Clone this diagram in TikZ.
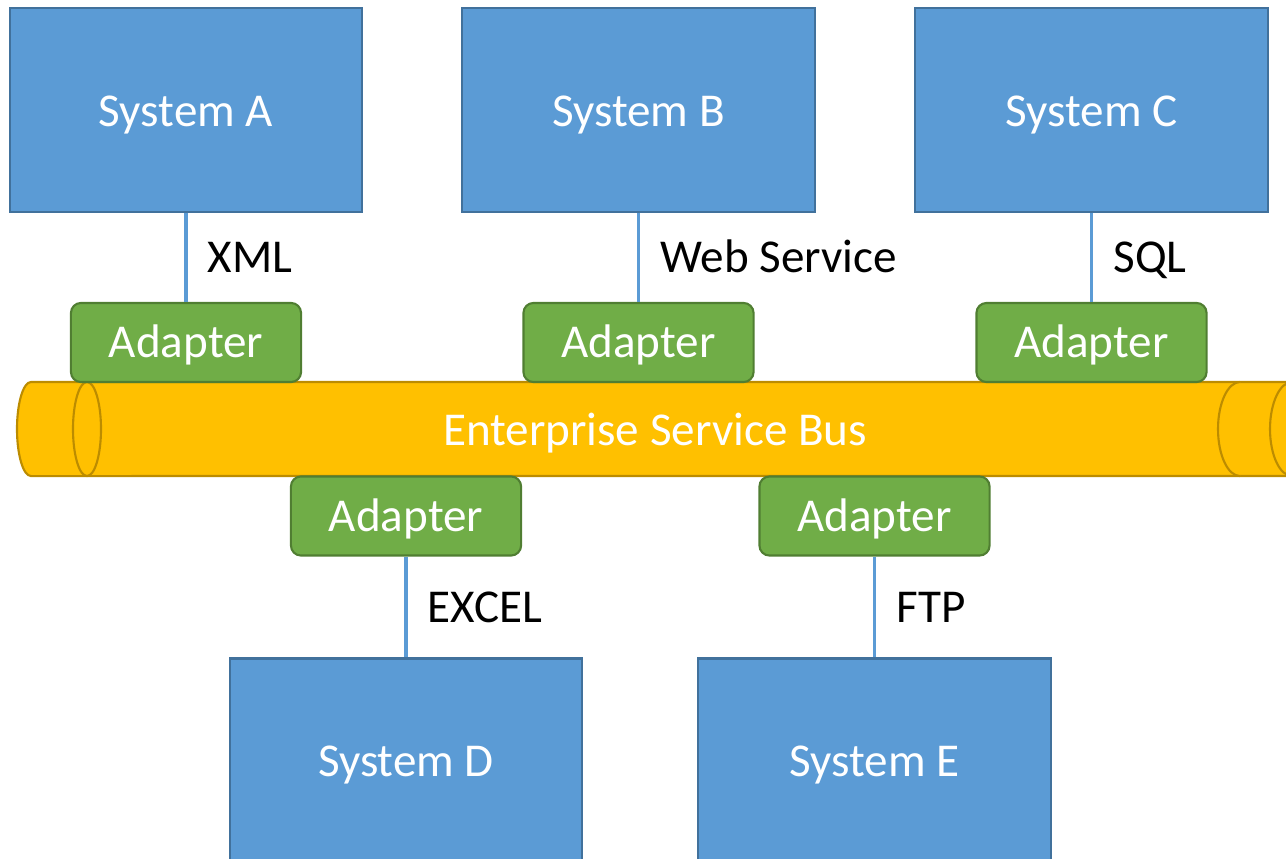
\documentclass[tikz,border=0pt]{standalone}
\usepackage{fontspec}
\setmainfont{Carlito}
\definecolor{sysblue}{HTML}{5B9BD5}
\definecolor{sysedge}{HTML}{41719C}
\definecolor{adgreen}{HTML}{70AD47}
\definecolor{adedge}{HTML}{507E32}
\definecolor{busgold}{HTML}{FFC000}
\definecolor{busedge}{HTML}{BC8C00}
\begin{document}
\begin{tikzpicture}[x=0.01cm, y=-0.01cm,
        system/.style={rectangle, draw=sysedge, fill=sysblue, line width=0.6pt, minimum width=3.52cm, minimum height=2.03cm, text=white, text height=9.6pt, text depth=0pt, font=\fontsize{13.4}{16}\selectfont},
        adapter/.style={rectangle, rounded corners=0.1cm, draw=adedge, fill=adgreen, line width=0.6pt, minimum width=2.3cm, minimum height=0.79cm, text=white, text height=8.8pt, text depth=0pt, font=\fontsize{13.4}{16}\selectfont},
        bus/.style={draw=busedge, fill=busgold, line width=0.6pt},
        link/.style={draw=sysblue, line width=1.1pt},
        lbl/.style={anchor=west, inner sep=0pt, xshift=0.2cm, text height=8.6pt, text depth=0pt, font=\fontsize{13.4}{16}\selectfont},
        ]
        \useasboundingbox (0,0) rectangle (1286,858);

        % the bus
        \filldraw[bus] (1292,382) -- (31,382) arc[start angle=90, end angle=270, x radius=0.14cm, y radius=0.47cm] -- (1292,476);
        \draw[bus] (87,429) ellipse[x radius=0.14cm, y radius=0.47cm];
        \draw[bus] (1240,382) arc[start angle=90, end angle=270, x radius=0.22cm, y radius=0.47cm];
        \draw[bus] (1292,382) arc[start angle=90, end angle=270, x radius=0.22cm, y radius=0.47cm];
        \node (esb) at (655,429) [text=white, text height=9.2pt, text depth=0pt, font=\fontsize{13.4}{16}\selectfont] {Enterprise Service Bus};

        \node (sysa) at (186,110) [system] {System A};
        \node (sysb) at (638.5,110) [system] {System B};
        \node (sysc) at (1091.5,110) [system] {System C};
        \node (sysd) at (406,760) [system] {System D};
        \node (syse) at (874.5,760) [system] {System E};

        \node (ada) at (186,342.5) [adapter] {Adapter};
        \node (adb) at (638.5,342.5) [adapter] {Adapter};
        \node (adc) at (1091.5,342.5) [adapter] {Adapter};
        \node (add) at (406,516) [adapter] {Adapter};
        \node (ade) at (874.5,516) [adapter] {Adapter};

        \draw[link] (sysa) -- node[lbl] {XML} (ada);
        \draw[link] (sysb) -- node[lbl] {Web Service} (adb);
        \draw[link] (sysc) -- node[lbl] {SQL} (adc);
        \draw[link] (add) -- node[lbl] {EXCEL} (sysd);
        \draw[link] (ade) -- node[lbl] {FTP} (syse);

    \end{tikzpicture}
\end{document}
